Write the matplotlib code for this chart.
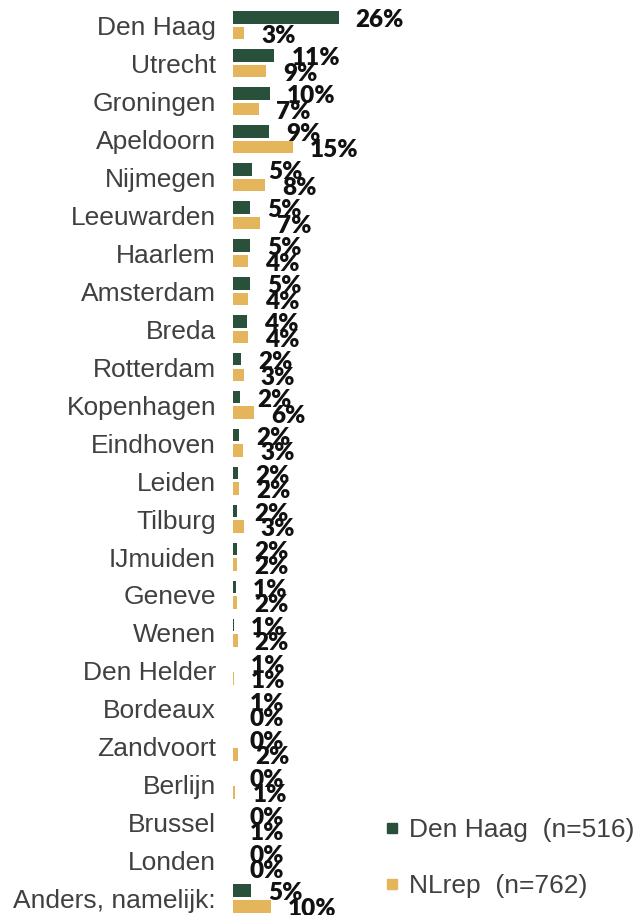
import matplotlib
matplotlib.use("Agg")
import matplotlib.pyplot as plt
from matplotlib.lines import Line2D
import numpy as np

# categories top to bottom
cities = ["Den Haag", "Utrecht", "Groningen", "Apeldoorn", "Nijmegen", "Leeuwarden",
          "Haarlem", "Amsterdam", "Breda", "Rotterdam", "Kopenhagen", "Eindhoven",
          "Leiden", "Tilburg", "IJmuiden", "Geneve", "Wenen", "Den Helder",
          "Bordeaux", "Zandvoort", "Berlijn", "Brussel", "Londen", "Anders, namelijk:"]

# bar lengths and the printed labels
denhaag_vals = [26.0, 10.2, 9.1, 8.9, 4.6, 4.2, 4.2, 4.2, 3.4, 2.0, 1.7, 1.5,
                1.2, 1.0, 1.0, 0.7, 0.3, 0.1, 0.0, 0.0, 0.0, 0.0, 0.0, 4.4]
nlrep_vals = [2.8, 8.2, 6.3, 14.8, 7.9, 6.6, 3.7, 3.7, 3.7, 2.7, 5.2, 2.5,
              1.5, 2.7, 1.1, 1.1, 1.15, 0.3, 0.0, 1.2, 0.6, 0.0, 0.0, 9.4]
denhaag_lbl = [26, 11, 10, 9, 5, 5, 5, 5, 4, 2, 2, 2, 2, 2, 2, 1, 1, 1, 1, 0, 0, 0, 0, 5]
nlrep_lbl = [3, 9, 7, 15, 8, 7, 4, 4, 4, 3, 6, 3, 2, 3, 2, 2, 2, 1, 0, 2, 1, 1, 0, 10]

GREEN = "#28503a"
YELLOW = "#e5b55b"
W, H = 641, 915

fig = plt.figure(figsize=(W / 100, H / 100), dpi=100)
ax = fig.add_axes([233 / W, 0, 406 / W, 1])

y = np.arange(len(cities))
bh = 0.33
ax.barh(y - 0.21, denhaag_vals, height=bh, color=GREEN)
ax.barh(y + 0.20, nlrep_vals, height=bh, color=YELLOW)

ax.set_xlim(0, 100)
ax.set_ylim(23.43, -0.672)

for yi, v, l in zip(y, denhaag_vals, denhaag_lbl):
    ax.annotate(f"{l}%", (v, yi - 0.21), xytext=(12.2, -2), textcoords="offset points",
                ha="left", va="center", fontsize=17.5, fontweight="heavy",
                family="Lato", color="#111111")
for yi, v, l in zip(y, nlrep_vals, nlrep_lbl):
    ax.annotate(f"{l}%", (v, yi + 0.20), xytext=(12.2, -2), textcoords="offset points",
                ha="left", va="center", fontsize=17.5, fontweight="heavy",
                family="Lato", color="#111111")

ax.set_yticks(y)
ax.set_yticklabels(cities, fontsize=19, family="Liberation Sans", color="#404040")
ax.tick_params(axis="y", length=0, pad=12.2)
ax.set_xticks([])
for s in ax.spines.values():
    s.set_visible(False)

handles = [Line2D([], [], marker="s", ls="", color=GREEN, markersize=7.2),
           Line2D([], [], marker="s", ls="", color=YELLOW, markersize=7.2)]
fig.legend(handles, ["Den Haag  (n=516)", "NLrep  (n=762)"],
           loc="center left", bbox_to_anchor=(385.5 / W, 57 / H),
           frameon=False, handlelength=0.5, handletextpad=0.4, borderpad=0,
           borderaxespad=0, labelspacing=1.2,
           prop={"family": "Liberation Sans", "size": 19}, labelcolor="#404040")

fig.savefig("out.png", dpi=100)
